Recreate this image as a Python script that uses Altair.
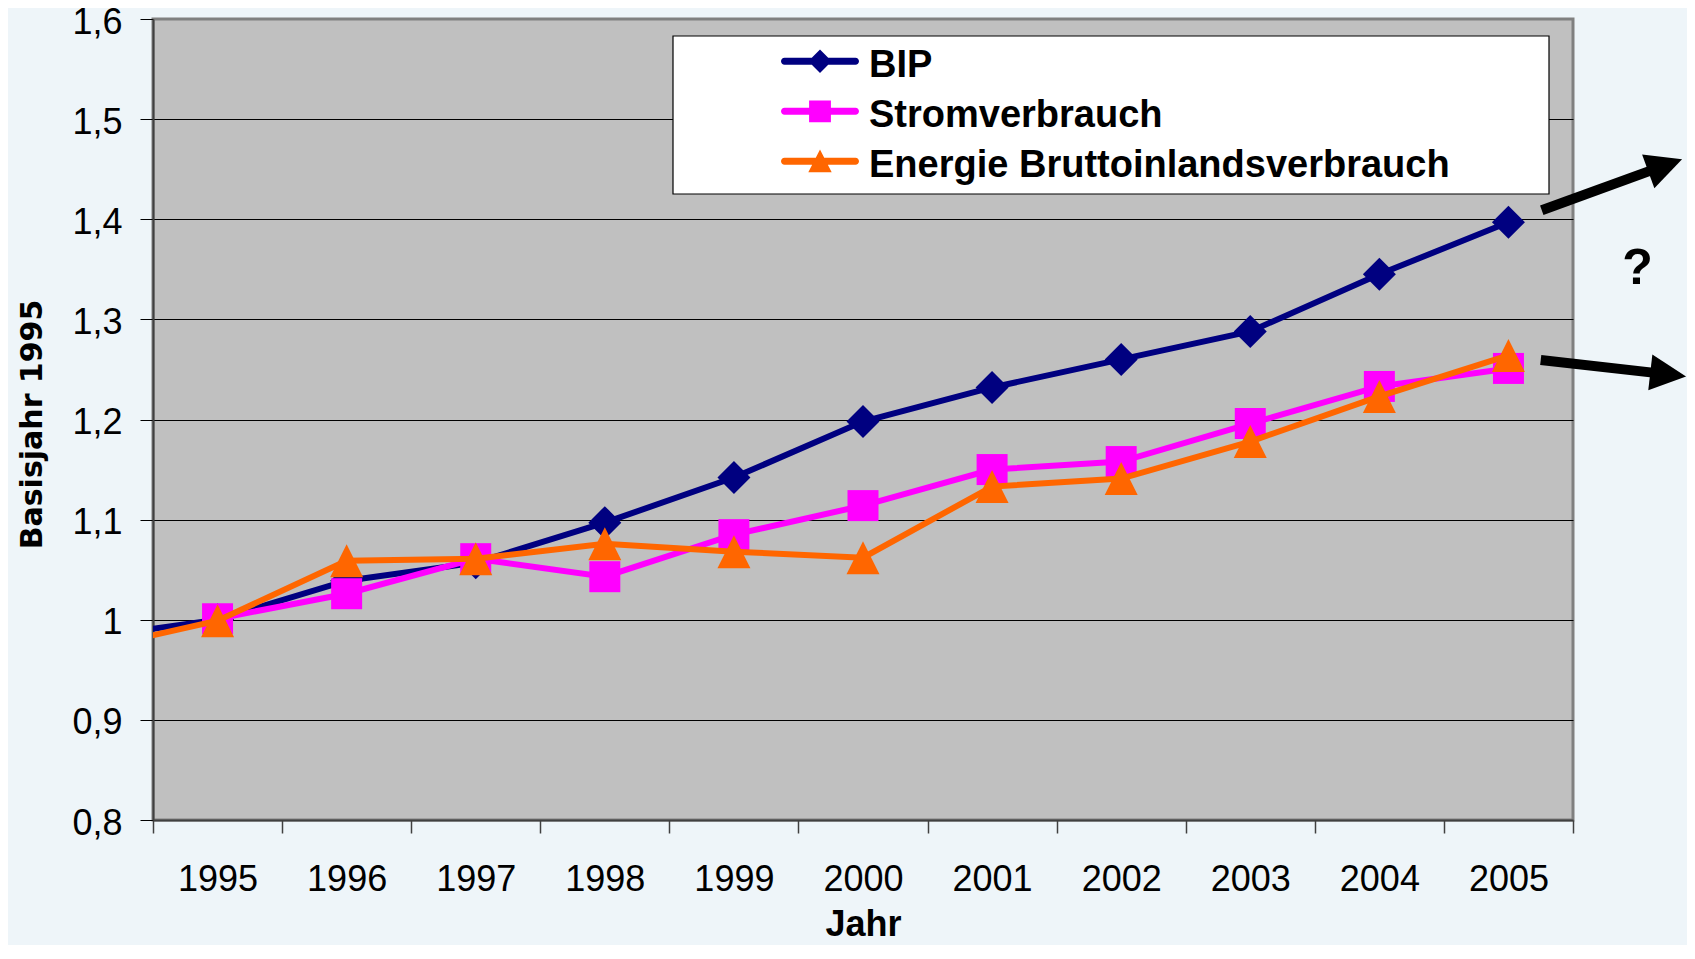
import altair as alt
import pandas as pd

# ---------------- data ----------------
years = [1995, 1996, 1997, 1998, 1999, 2000, 2001, 2002, 2003, 2004, 2005]
bip = [1.000, 1.039, 1.057, 1.097, 1.142, 1.198, 1.232, 1.260, 1.288, 1.345, 1.397]
strom = [1.001, 1.026, 1.061, 1.043, 1.085, 1.114, 1.150, 1.158, 1.196, 1.233, 1.251]
energie = [0.999, 1.059, 1.061, 1.076, 1.068, 1.062, 1.133, 1.141, 1.178, 1.223, 1.264]

# the lines of BIP and Energie enter the plot from the left edge (previous year)
stub_year = 1994
bip_stub = 0.982
energie_stub = 0.970

series_names = ["BIP", "Stromverbrauch", "Energie Bruttoinlandsverbrauch"]
series_colors = ["#000080", "#FF00FF", "#FF6600"]

x_tick_values = [1994.5, 1995.5, 1996.5, 1997.5, 1998.5, 1999.5, 2000.5,
                 2001.5, 2002.5, 2003.5, 2004.5, 2005.5]
y_tick_values = [0.8, 0.9, 1.0, 1.1, 1.2, 1.3, 1.4, 1.5, 1.6]

# annotation arrows (in data units) and the question mark
arrow_tail_x = [2005.258, 2005.250]
arrow_tail_y = [1.409, 1.2595]
arrow_tip_x = [2006.345, 2006.376]
arrow_tip_y = [1.460, 1.243]
arrow_angle = [340.1, 6.5]
question_x = [2006.0]
question_y = [1.350]

# ---------------- styling ----------------
FONT = "Liberation Sans"
W, H = 1420, 801

TRI = "M0,-1L1,1L-1,1Z"
marker_shapes = ["diamond", "square", TRI]
marker_sizes = [1089, 961, 1089]

LINE = ("M-0.91,-0.21L0.91,-0.21A0.09,0.09 0 0 1 0.91,-0.03"
        "L-0.91,-0.03A0.09,0.09 0 0 1 -0.91,-0.21Z")
legend_paths = [
    LINE + "M0,-0.42L0.3,-0.12L0,0.18L-0.3,-0.12Z",
    LINE + "M-0.28,-0.40L0.28,-0.40L0.28,0.16L-0.28,0.16Z",
    LINE + "M0,-0.42L0.3,0.16L-0.3,0.16Z",
]
HEAD = "M0,0L-2,-1L-2,1Z"

x_scale = alt.Scale(domain=[1994.5, 2005.5], nice=False, zero=False)
y_scale = alt.Scale(domain=[0.8, 1.6], nice=False, zero=False)

x_axis = alt.Axis(
    values=x_tick_values, title="Jahr",
    labelExpr="datum.value > 2005 ? '' : format(datum.value + 0.5, 'd')",
    labelOffset=W / 22, labelPadding=29, labelFont=FONT, labelFontSize=36,
    labelColor="#000000", labelFlush=False, labelOverlap=False,
    tickSize=13, tickColor="#404040", tickWidth=1.5,
    domainColor="#404040", domainWidth=2, grid=False,
    titleFont=FONT, titleFontSize=36, titleFontWeight="bold", titleColor="#000000",
    titleX=W / 2, titleY=115, titleBaseline="alphabetic", titleAlign="center",
)
y_axis = alt.Axis(
    values=y_tick_values, title="Basisjahr 1995",
    labelExpr="replace(format(datum.value, '.1~f'), '.', ',')",
    labelPadding=18, labelOffset=3, labelFont=FONT, labelFontSize=36,
    labelColor="#000000", labelFlush=False, labelOverlap=False,
    tickSize=13, tickColor="#000000", tickWidth=1,
    domainColor="#404040", domainWidth=2,
    grid=True, gridWidth=1,
    gridColor={"condition": {"test": "datum.value < 0.85 || datum.value > 1.55",
                             "value": "rgba(0,0,0,0)"}, "value": "#000000"},
    titleFont="DejaVu Sans", titleFontSize=30, titleFontWeight="bold", titleColor="#000000",
    titleAngle=270, titleX=-121, titleY=405, titleAlign="center", titleBaseline="middle",
)


def xenc(field):
    return alt.X(field, type="quantitative", scale=x_scale, axis=x_axis)


def yenc(field):
    return alt.Y(field, type="quantitative", scale=y_scale, axis=y_axis)


frames = [
    pd.DataFrame({"Series": series_names[0], "Jahr": [stub_year] + years, "Wert": [bip_stub] + bip}),
    pd.DataFrame({"Series": series_names[1], "Jahr": years, "Wert": strom}),
    pd.DataFrame({"Series": series_names[2], "Jahr": [stub_year] + years, "Wert": [energie_stub] + energie}),
]

layers = []
for df, color, shape, size in zip(frames, series_colors, marker_shapes, marker_sizes):
    layers.append(
        alt.Chart(df).mark_line(color=color, strokeWidth=6, clip=True)
        .encode(x=xenc("Jahr"), y=yenc("Wert"))
    )
    layers.append(
        alt.Chart(df[df["Jahr"] >= years[0]]).mark_point(
            shape=shape, size=size, filled=True, color=color, opacity=1, strokeWidth=0)
        .encode(x=xenc("Jahr"), y=yenc("Wert"))
    )

# legend box
box = alt.Chart(pd.DataFrame({"k": [0]})).mark_rect(
    fill="#FFFFFF", stroke="#000000", strokeWidth=1.2
).encode(x=alt.value(520), x2=alt.value(1396), y=alt.value(17), y2=alt.value(175))
layers.append(box)

# legend helper (symbols only appear in the legend)
legend_df = pd.DataFrame({"Series": series_names})
legend_layer = alt.Chart(legend_df).mark_point(filled=True, clip=True, opacity=1, size=6084).encode(
    x=alt.value(-400), y=alt.value(-400),
    color=alt.Color("Series:N", scale=alt.Scale(domain=series_names, range=series_colors), title=None),
    shape=alt.Shape("Series:N", scale=alt.Scale(domain=series_names, range=legend_paths), title=None),
)
layers.append(legend_layer)

# arrows
arrows = pd.DataFrame({
    "tail_x": arrow_tail_x, "tail_y": arrow_tail_y,
    "tip_x": arrow_tip_x, "tip_y": arrow_tip_y, "angle": arrow_angle,
})
arrows["neck_x"] = arrows["tail_x"] + 0.8 * (arrows["tip_x"] - arrows["tail_x"])
arrows["neck_y"] = arrows["tail_y"] + 0.8 * (arrows["tip_y"] - arrows["tail_y"])

shaft = alt.Chart(arrows).mark_rule(color="#000000", strokeWidth=10, strokeCap="butt").encode(
    x=xenc("tail_x"), y=yenc("tail_y"), x2="neck_x:Q", y2="neck_y:Q"
)
head = alt.Chart(arrows).mark_point(shape=HEAD, size=1296, filled=True, color="#000000",
                                    opacity=1, strokeWidth=0).encode(
    x=xenc("tip_x"), y=yenc("tip_y"), angle=alt.Angle("angle:Q", scale=None)
)
qmark = alt.Chart(pd.DataFrame({"x": question_x, "y": question_y})).mark_text(
    text="?", font=FONT, fontSize=50, fontWeight="bold", color="#000000",
    align="center", baseline="middle"
).encode(x=xenc("x"), y=yenc("y"))
layers += [shaft, head, qmark]

chart = alt.layer(*layers).properties(
    width=W, height=H,
    autosize=alt.AutoSizeParams(type="none"),
    padding={"left": 145, "top": 11, "right": 114, "bottom": 125},
    background="#EEF5F9",
).configure_view(
    fill="#C0C0C0", stroke="#808080", strokeWidth=3
).configure_legend(
    orient="none", legendX=628, legendY=22, padding=0,
    symbolSize=6084, clipHeight=50, rowPadding=0, symbolOffset=0,
    labelOffset=10, labelFont=FONT, labelFontSize=38, labelFontWeight="bold",
    labelColor="#000000", labelLimit=1200, symbolStrokeWidth=0,
)

chart.save("out.html", embed_options={"renderer": "svg", "actions": False})
